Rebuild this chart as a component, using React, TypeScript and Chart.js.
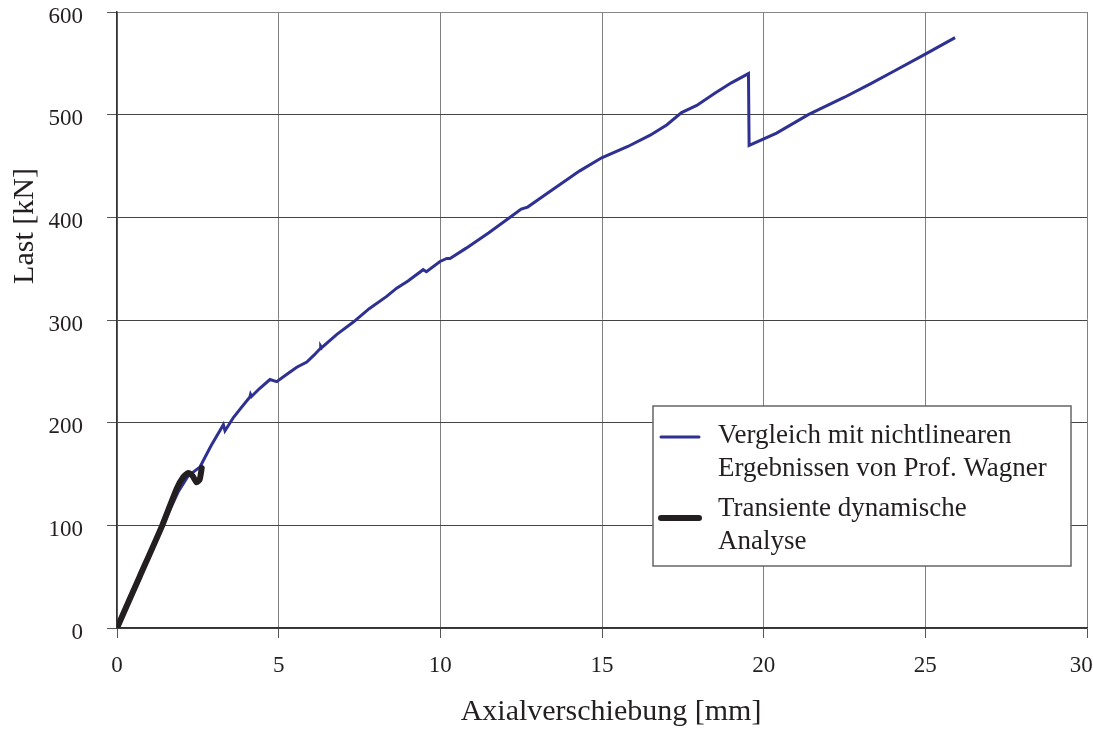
import React, { useEffect, useRef } from "react";
import { Chart, registerables } from "chart.js";

Chart.register(...registerables);

const blueLabel = "Vergleich mit nichtlinearen\nErgebnissen von Prof. Wagner";
const blackLabel = "Transiente dynamische\nAnalyse";
const xTitle = "Axialverschiebung [mm]";
const yTitle = "Last [kN]";

const blueX = [0, 0.5, 1.0, 1.5, 1.9, 2.2, 2.57, 2.9, 3.29, 3.34, 3.6, 3.8, 4.11, 4.13, 4.16, 4.4, 4.73, 4.94, 5.2, 5.56, 5.87, 6.1, 6.28, 6.3, 6.33, 6.8, 7.31, 7.8, 8.34, 8.65, 9.0, 9.47, 9.57, 9.99, 10.2, 10.3, 10.8, 11.5, 12.2, 12.5, 12.7, 13.2, 13.7, 14.3, 14.99, 15.8, 16.49, 17.0, 17.46, 17.93, 18.5, 19.0, 19.53, 19.55, 20.4, 21.38, 22.5, 23.3, 24.01, 25.0, 25.92];
const blueY = [0, 36, 71, 106, 133, 148, 157, 177, 198, 192, 205, 213, 225, 227.5, 225.5, 233, 242, 240, 246, 254, 259, 266, 272, 274.5, 273, 286, 298, 311, 323, 331, 338, 349, 347, 357, 360, 360, 370, 385, 401, 408, 410, 421, 432, 445, 458, 469, 480, 490, 502, 509, 521, 531, 540, 470, 482, 500, 517, 530, 542, 559, 575];

const blackX = [0, 0.7, 1.4, 1.85, 2.05, 2.2, 2.34, 2.46, 2.56, 2.62];
const blackY = [0, 50, 100, 136, 147, 151, 148, 142, 145, 156];

const xTicks = [0, 5, 10, 15, 20, 25, 30];
const yTicks = [0, 100, 200, 300, 400, 500, 600];

const FONT = "'Liberation Serif', 'Times New Roman', serif";
const TEXT = "#231f20";

const overlayPlugin = {
  id: "overlay",
  afterDraw(chart: any) {
    const ctx = chart.ctx;
    ctx.save();
    ctx.fillStyle = TEXT;
    ctx.font = `30px ${FONT}`;
    ctx.textAlign = "center";
    ctx.textBaseline = "alphabetic";
    ctx.fillText(xTitle, 611, 720);
    ctx.textBaseline = "middle";
    ctx.translate(25, 226);
    ctx.rotate(-Math.PI / 2);
    ctx.fillText(yTitle, 0, 0);
    ctx.restore();

    ctx.save();
    const x0 = 653, y0 = 406, w = 418, h = 160;
    ctx.fillStyle = "#ffffff";
    ctx.fillRect(x0, y0, w, h);
    ctx.strokeStyle = "#666666";
    ctx.lineWidth = 1.5;
    ctx.strokeRect(x0, y0, w, h);
    const entries = [
      { ds: chart.data.datasets[0], lineY: 437, baseY: 443 },
      { ds: chart.data.datasets[1], lineY: 518, baseY: 516 },
    ];
    ctx.font = `27px ${FONT}`;
    ctx.textBaseline = "alphabetic";
    ctx.textAlign = "left";
    for (const e of entries) {
      ctx.strokeStyle = e.ds.borderColor;
      ctx.lineWidth = e.ds.borderWidth;
      ctx.lineCap = "round";
      ctx.beginPath();
      ctx.moveTo(661, e.lineY);
      ctx.lineTo(699, e.lineY);
      ctx.stroke();
      ctx.fillStyle = TEXT;
      const lines = String(e.ds.label).split("\n");
      lines.forEach((ln: string, i: number) => {
        ctx.fillText(ln, 718, e.baseY + i * 33);
      });
    }
    ctx.restore();
  },
};

const noPad = (s: any) => {
  s.paddingTop = 0;
  s.paddingBottom = 0;
  s.paddingLeft = 0;
  s.paddingRight = 0;
};

export default function App() {
  const ref = useRef<HTMLCanvasElement | null>(null);
  useEffect(() => {
    if (!ref.current) return;
    const chart = new Chart(ref.current, {
      type: "line",
      data: {
        datasets: [
          {
            label: blueLabel,
            data: blueX.map((x, i) => ({ x, y: blueY[i] })),
            borderColor: "#2e3192",
            borderWidth: 3,
            pointRadius: 0,
            tension: 0,
            order: 1,
          },
          {
            label: blackLabel,
            data: blackX.map((x, i) => ({ x, y: blackY[i] })),
            borderColor: "#231f20",
            borderWidth: 6,
            pointRadius: 0,
            tension: 0.2,
            borderCapStyle: "round",
            borderJoinStyle: "round",
            order: 0,
          },
        ],
      },
      options: {
        animation: false,
        responsive: true,
        maintainAspectRatio: false,
        layout: { autoPadding: false, padding: { top: 12, right: 6, left: 0, bottom: 0 } },
        plugins: { legend: { display: false }, tooltip: { enabled: false } },
        scales: {
          x: {
            type: "linear",
            min: 0,
            max: 30,
            afterBuildTicks: (s: any) => {
              s.ticks = xTicks.map((v) => ({ value: v }));
            },
            afterFit: (s: any) => {
              s.height = 101;
              noPad(s);
            },
            ticks: {
              padding: 14,
              color: TEXT,
              font: { family: FONT, size: 23 },
              maxRotation: 0,
              callback: (v: any) => (v === 30 ? "30  " : String(v)),
            },
            grid: {
              color: "#808080",
              lineWidth: 1,
              tickLength: 10,
              tickColor: "#555555",
            },
            border: { color: "#333333", width: 1.5 },
          },
          y: {
            type: "linear",
            min: 0,
            max: 600,
            afterBuildTicks: (s: any) => {
              s.ticks = yTicks.map((v) => ({ value: v }));
            },
            afterFit: (s: any) => {
              s.width = 117;
              noPad(s);
            },
            ticks: {
              padding: 24,
              color: TEXT,
              font: { family: FONT, size: 23, lineHeight: "9px" },
              callback: (v: any) => ["", String(v)],
            },
            grid: {
              color: (c: any) => (c.tick && c.tick.value === 600 ? "#888888" : "#444444"),
              lineWidth: 1,
              tickLength: 10,
              tickColor: "#555555",
            },
            border: { color: "#333333", width: 1.5 },
          },
        },
      },
      plugins: [overlayPlugin],
    } as any);
    return () => chart.destroy();
  }, []);
  return (
    <div style={{ position: "fixed", left: 0, top: 0, width: 1093, height: 729, background: "#fff" }}>
      <canvas ref={ref} />
    </div>
  );
}
